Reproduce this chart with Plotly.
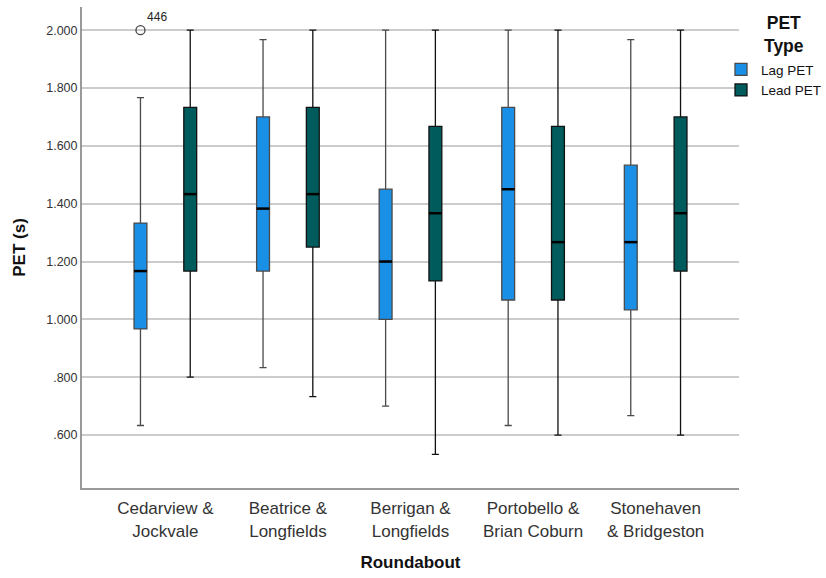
import plotly.graph_objects as go

categories = ["Cedarview &<br>Jockvale", "Beatrice &<br>Longfields", "Berrigan &<br>Longfields",
              "Portobello &<br>Brian Coburn", "Stonehaven<br>& Bridgeston"]

lag_low = [0.633, 0.833, 0.700, 0.633, 0.667]
lag_q1 = [0.967, 1.167, 1.000, 1.067, 1.033]
lag_med = [1.167, 1.383, 1.200, 1.450, 1.267]
lag_q3 = [1.333, 1.700, 1.450, 1.733, 1.533]
lag_high = [1.767, 1.967, 2.000, 2.000, 1.967]

lead_low = [0.800, 0.733, 0.533, 0.600, 0.600]
lead_q1 = [1.167, 1.250, 1.133, 1.067, 1.167]
lead_med = [1.433, 1.433, 1.367, 1.267, 1.367]
lead_q3 = [1.733, 1.733, 1.667, 1.667, 1.700]
lead_high = [2.000, 2.000, 2.000, 2.000, 2.000]

outlier_cat = [0]
outlier_val = [2.000]
outlier_label = ["446"]

y_ticks = [0.6, 0.8, 1.0, 1.2, 1.4, 1.6, 1.8, 2.0]
y_ticktext = [".600", ".800", "1.000", "1.200", "1.400", "1.600", "1.800", "2.000"]

offset = 0.203
bw = 0.105
idx = list(range(len(categories)))
FONT = "Liberation Sans, Arial"

fig = go.Figure()
fig.add_trace(go.Box(
    name="Lag PET", x=[i - offset for i in idx],
    q1=lag_q1, median=lag_med, q3=lag_q3, lowerfence=lag_low, upperfence=lag_high,
    width=bw, whiskerwidth=0.55, fillcolor="#1a8fe6",
    line=dict(color="#4a4a4a", width=1.3), boxpoints=False, hoverinfo="skip",
))
fig.add_trace(go.Box(
    name="Lead PET", x=[i + offset for i in idx],
    q1=lead_q1, median=lead_med, q3=lead_q3, lowerfence=lead_low, upperfence=lead_high,
    width=bw, whiskerwidth=0.55, fillcolor="#005c5c",
    line=dict(color="#111111", width=1.3), boxpoints=False, hoverinfo="skip",
))


def median_segments(meds, shift):
    xs, ys = [], []
    for i, m in zip(idx, meds):
        xs += [i + shift - bw / 2, i + shift + bw / 2, None]
        ys += [m, m, None]
    return xs, ys


for meds, shift in ((lag_med, -offset), (lead_med, offset)):
    mx, my = median_segments(meds, shift)
    fig.add_trace(go.Scatter(x=mx, y=my, mode="lines", line=dict(color="#000", width=2.5),
                             showlegend=False, hoverinfo="skip"))

fig.add_trace(go.Scatter(
    x=[c - offset for c in outlier_cat], y=outlier_val, mode="markers+text",
    text=outlier_label, textposition="top right",
    textfont=dict(family=FONT, size=12, color="#222"),
    marker=dict(symbol="circle-open", size=9, color="#444", line=dict(width=1.3)),
    showlegend=False, hoverinfo="skip",
))

fig.update_layout(
    width=826, height=578,
    margin=dict(l=82, r=87, t=7, b=90, autoexpand=False),
    plot_bgcolor="white", paper_bgcolor="white",
    font=dict(family=FONT, color="#222"),
    legend=dict(
        x=0.9726, xanchor="left", y=0.902, yanchor="top",
        font=dict(size=13.5, color="#111"), bgcolor="rgba(0,0,0,0)",
        tracegroupgap=0, itemwidth=30,
    ),
    annotations=[dict(
        text="<b>PET<br>Type</b>", x=1.0685, y=0.942, xref="paper", yref="paper",
        xanchor="center", yanchor="middle", showarrow=False, align="center",
        font=dict(family=FONT, size=17.5, color="#111"),
    )],
)
fig.update_xaxes(
    range=[-0.68, 4.68], tickmode="array", tickvals=idx, ticktext=categories,
    showgrid=False, zeroline=False, showline=True, linecolor="#999", linewidth=2,
    tickfont=dict(size=17, color="#333"), ticks="", ticklabelstandoff=4,
    title=dict(text="<b>Roundabout</b>", font=dict(size=17, color="#111"), standoff=17),
)
fig.update_yaxes(
    range=[0.417, 2.08], tickmode="array", tickvals=y_ticks, ticktext=y_ticktext,
    showgrid=True, gridcolor="#cccccc", gridwidth=1.5, zeroline=False,
    showline=True, linecolor="#999", linewidth=2,
    tickfont=dict(size=12.5, color="#333"), ticks="",
    title=dict(text="<b>PET (s)</b>", font=dict(size=17, color="#111"), standoff=16),
)

fig.write_html("out.html")
